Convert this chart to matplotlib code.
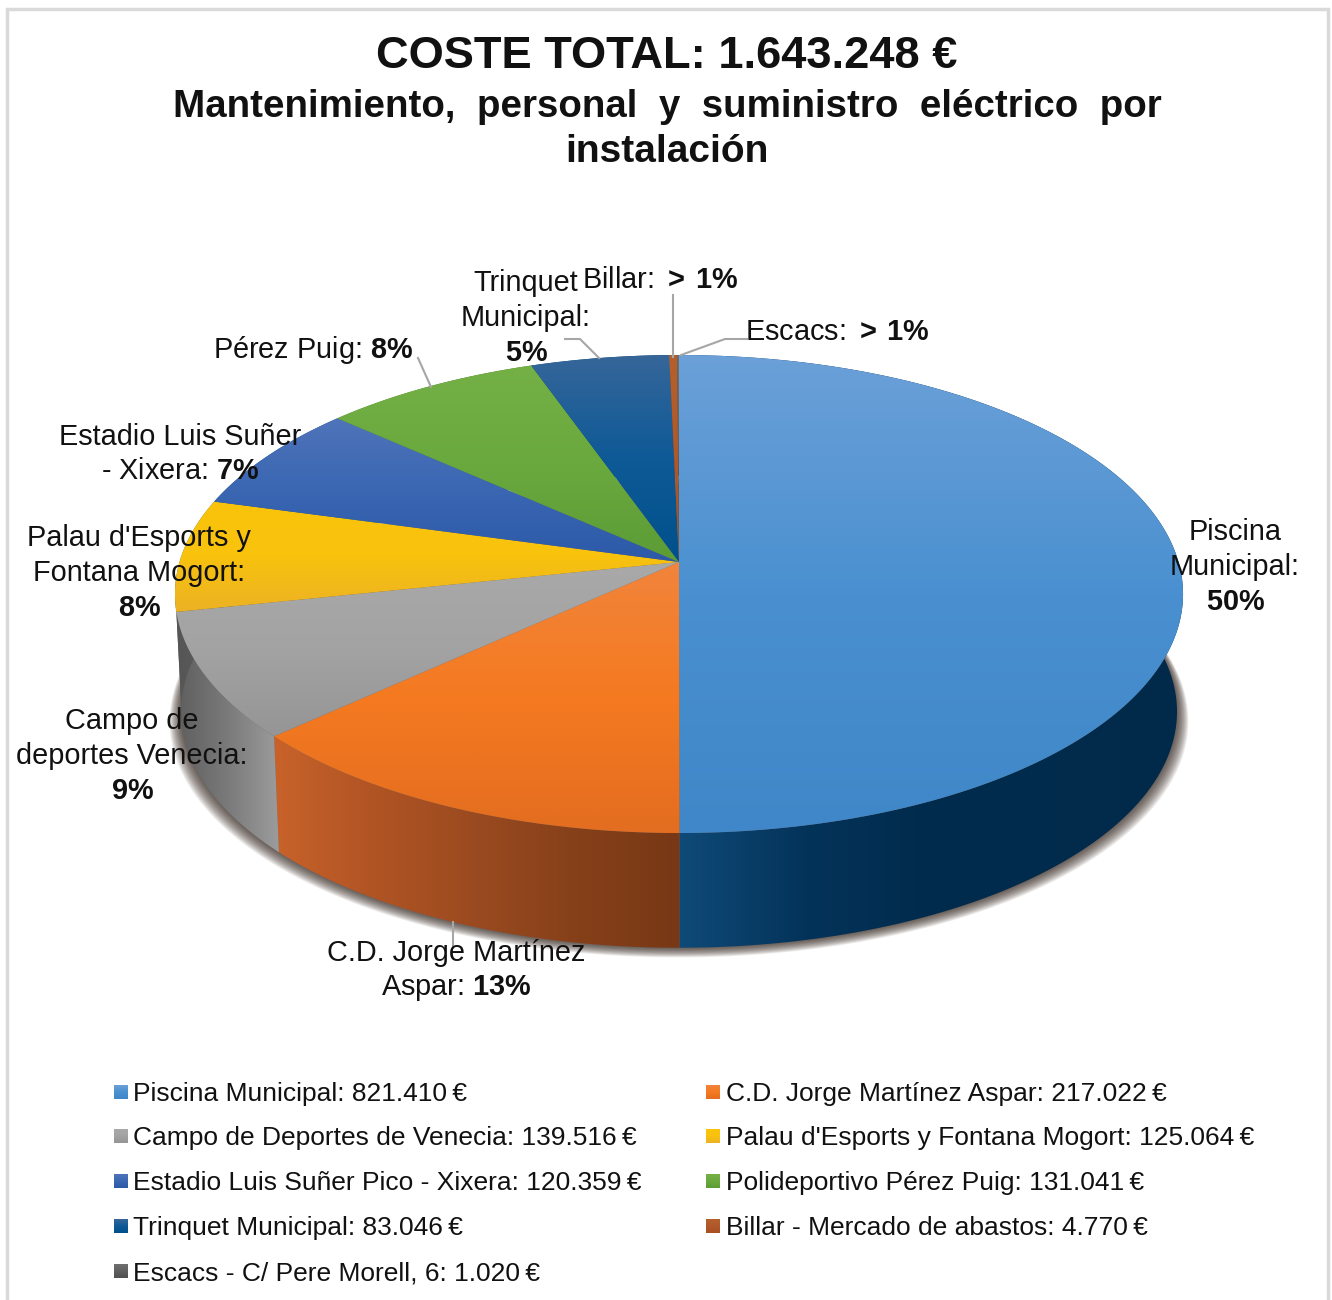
import numpy as np
import matplotlib
matplotlib.use("Agg")
import matplotlib.pyplot as plt
from matplotlib.colors import LinearSegmentedColormap
from matplotlib.patches import Polygon, Rectangle

plt.rcParams['font.family'] = ['Liberation Sans', 'DejaVu Sans']
plt.rcParams['mathtext.fontset'] = 'custom'
plt.rcParams['mathtext.rm'] = 'Liberation Sans'
plt.rcParams['mathtext.bf'] = 'Liberation Sans:bold'

# data
names = ["Piscina Municipal: ", "C.D. Jorge Martínez Aspar: ", "Campo de Deportes de Venecia: ",
         "Palau d'Esports y Fontana Mogort: ", "Estadio Luis Suñer Pico - Xixera: ",
         "Polideportivo Pérez Puig: ", "Trinquet Municipal: ", "Billar - Mercado de abastos: ",
         "Escacs - C/ Pere Morell, 6: "]
values = [821410, 217022, 139516, 125064, 120359, 131041, 83046, 4770, 1020]
labels = ["Piscina\nMunicipal:\n$\\mathbf{50\\%}$",
          "C.D. Jorge Martínez\nAspar: $\\mathbf{13\\%}$",
          "Campo de\ndeportes Venecia:\n$\\mathbf{9\\%}$",
          "Palau d'Esports y\nFontana Mogort:\n$\\mathbf{8\\%}$",
          "Estadio Luis Suñer\n- Xixera: $\\mathbf{7\\%}$",
          "Pérez Puig: $\\mathbf{8\\%}$",
          "Trinquet\nMunicipal:\n$\\mathbf{5\\%}$",
          "Billar: $\\mathbf{{>}\\,1\\%}$",
          "Escacs: $\\mathbf{{>}\\,1\\%}$"]

# styles and layout, all in pixels of the 1332x1300 picture
top_colors = [["#6ba0d8", "#4a90d0", "#3f87c8"], ["#f1843c", "#f57a20", "#e36d20"],
              ["#a9a9a9", "#a3a3a3", "#959595"], ["#fac40c", "#f8c20e", "#ecb224"],
              ["#4f74ba", "#3a66b2", "#2c5aa8"], ["#74b046", "#6aa93e", "#5c9c36"],
              ["#36669a", "#0e5a96", "#00508c"], ["#b5602c", "#b0582a", "#a85020"],
              ["#707070", "#606060", "#505050"]]
# the yellow slice only shows a sliver of wall at the far left, it reads as dark grey
wall_colors = [["#0f4a78", "#04335a", "#012b4c", "#012b4c", "#01294a"],
               ["#c8622a", "#b05424", "#9a4a20", "#854019", "#783815"],
               ["#5e5e5e", "#7a7a7a", "#9c9c9c"], ["#555555", "#5e5e5e"], ["#2a4d8c", "#2a4d8c"],
               ["#4f8030", "#4f8030"], ["#04406e", "#04406e"], ["#80401a", "#80401a"], ["#444444", "#444444"]]
label_pos = [(1235, 567), (456, 971), (132, 756), (139, 573), (180, 454), (313, 350), (526, 318), (660, 280), (837, 332)]
leaders = [[(418, 358), (431, 387)], [(565, 339), (580, 339), (599, 358)], [(673, 295), (673, 357)],
           [(747, 339), (725, 339), (681, 355)], [(453, 922), (453, 948)]]
legend_rows = [1094, 1138, 1183, 1228, 1273]
legend_cols = [(114, 133), (706, 726)]

cx, cy, persp, ax_y, ax_x = 679, 562, 0.134, 234.7, 499.5
wall_scale, wall_drop = 0.988, 118


def project(theta, r=1.0, drop=0.0, scale=1.0):
    # pie seen from above with some perspective, theta clockwise from 12 o'clock
    x, y = r * np.sin(theta), r * np.cos(theta)
    w = 1 + persp * y
    return cx + scale * ax_x * x / w, cy - scale * ax_y * y / w + drop


def grad_fill(ax, xy, stops, horizontal=False, zorder=2):
    xy = np.asarray(xy)
    patch = Polygon(xy, closed=True, fc="none", ec="none", transform=ax.transData)
    ax.add_patch(patch)
    ramp = np.linspace(0, 1, 256)
    ramp = ramp.reshape(1, -1) if horizontal else ramp.reshape(-1, 1)
    cmap = LinearSegmentedColormap.from_list("g", stops)
    x0, x1, y0, y1 = xy[:, 0].min(), xy[:, 0].max(), xy[:, 1].min(), xy[:, 1].max()
    im = ax.imshow(ramp, cmap=cmap, extent=(x0, x1, y1, y0), origin="upper", aspect="auto",
                   interpolation="bilinear", zorder=zorder)
    im.set_clip_path(patch)


fig = plt.figure(figsize=(13.32, 13.0), dpi=100)
ax = fig.add_axes([0, 0, 1, 1])
ax.set_xlim(0, 1332)
ax.set_ylim(1300, 0)
ax.axis("off")

ax.add_patch(Rectangle((7, 9), 1321, 1310, fc="white", ec="#d9d9d9", lw=2.5, zorder=0))

edges = 2 * np.pi * np.concatenate([[0], np.cumsum(values)]) / np.sum(values)

# soft shadow under the pie
t = np.linspace(0, 2 * np.pi, 400)
bx, by = project(t, drop=wall_drop, scale=wall_scale)
for grow in range(1, 13):
    sx = cx + (bx - cx) * (1 + grow * 0.0019)
    sy = by + grow * 0.8
    ax.add_patch(Polygon(np.column_stack([sx, sy]), fc="#2e2018", ec="none", alpha=0.09, zorder=1))

# side walls, then the top faces
for i in range(len(values)):
    t = np.linspace(edges[i], edges[i + 1], 200)
    tx, ty = project(t)
    lx, ly = project(t, drop=wall_drop, scale=wall_scale)
    wall = np.column_stack([np.r_[tx, lx[::-1]], np.r_[ty, ly[::-1]]])
    grad_fill(ax, wall, wall_colors[i], horizontal=True, zorder=2 + i * 0.01)

for i in range(len(values)):
    t = np.linspace(edges[i], edges[i + 1], 200)
    tx, ty = project(t)
    face = np.column_stack([np.r_[cx, tx], np.r_[cy, ty]])
    grad_fill(ax, face, top_colors[i], zorder=3 + i * 0.01)

# leader lines
for pts in leaders:
    ax.plot(*zip(*pts), color="#a6a6a6", lw=1.5, zorder=4)

# data labels
for lab, (x, y) in zip(labels, label_pos):
    ax.text(x, y, lab, ha="center", va="center", fontsize=20.8, color="#111111", linespacing=1.3, zorder=5)

# titles
ax.text(667, 56, "COSTE TOTAL: 1.643.248 €", ha="center", va="center", fontsize=32.6, fontweight="bold", color="#111111")
ax.text(667, 107, "Mantenimiento,  personal  y  suministro  eléctrico  por", ha="center", va="center",
        fontsize=27.7, fontweight="bold", color="#111111")
ax.text(667, 152, "instalación", ha="center", va="center", fontsize=28, fontweight="bold", color="#111111")

# legend, filled row by row in two columns
legend_order = [(0, 0, 0), (1, 0, 1), (2, 1, 0), (3, 1, 1), (4, 2, 0), (5, 2, 1), (6, 3, 0), (7, 3, 1), (8, 4, 0)]
for i, row, col in legend_order:
    y = legend_rows[row]
    sq_x, txt_x = legend_cols[col]
    sq = [(sq_x, y - 9), (sq_x + 14, y - 9), (sq_x + 14, y + 5), (sq_x, y + 5)]
    grad_fill(ax, sq, top_colors[i])
    val = f"{values[i]:,}".replace(",", ".")
    ax.text(txt_x, y, names[i] + val + "\u2009€", ha="left", va="center", fontsize=19, color="#111111")

fig.savefig("out.png", dpi=100, facecolor="white")
